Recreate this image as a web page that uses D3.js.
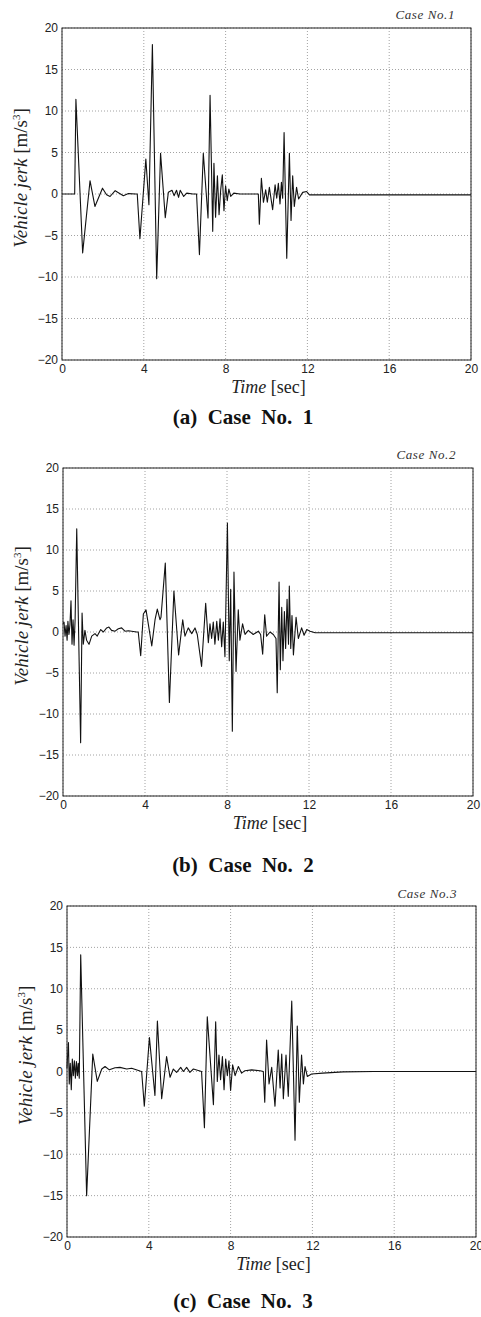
<!DOCTYPE html>
<html>
<head>
<meta charset="utf-8">
<script src="https://cdn.jsdelivr.net/npm/d3@7"></script>
<style>
  body { margin: 0; background: #fff; }
  svg { display: block; }
</style>
</head>
<body>
<div id="chart"></div>
<script>
// axis ticks shared by all three panels
const xTicks = [0, 4, 8, 12, 16, 20];
const yTicks = [-20, -15, -10, -5, 0, 5, 10, 15, 20];

// [time (s), jerk (m/s^3)]
const case1 = [[0,0],[0.62,0],[0.68,11.4],[1.01,-7.1],[1.37,1.6],[1.61,-1.5],[1.98,0.7],[2.18,-0.1],[2.35,-0.3],[2.6,0.4],
  [2.8,0.1],[3.0,-0.2],[3.25,0.05],[3.6,0],[3.68,0],[3.81,-5.4],[4.1,4.2],[4.25,-1.3],[4.42,18],[4.63,-10.2],
  [4.82,4.9],[5.05,-2.85],[5.2,0.2],[5.38,0.45],[5.48,-0.2],[5.6,0.45],[5.7,-0.4],[5.78,0.45],[5.95,-0.3],[6.1,0.1],
  [6.4,0],[6.58,0],[6.72,-7.3],[6.91,4.9],[7.14,-2.9],[7.24,11.9],[7.37,-4.5],[7.43,3.7],[7.51,-2.8],[7.6,2.2],
  [7.68,-2.5],[7.76,0.5],[7.84,2.3],[7.92,-2.0],[8.0,1.0],[8.08,-0.8],[8.16,0.6],[8.25,-0.3],[8.4,0.1],[8.7,0],
  [9.6,0],[9.65,-3.65],[9.75,1.9],[9.85,-1.0],[9.96,0.5],[10.04,-1.0],[10.14,0.8],[10.3,-1.9],[10.42,1.1],[10.5,-0.5],
  [10.58,1.3],[10.66,-1.2],[10.73,1.4],[10.79,-0.5],[10.86,7.4],[10.99,-7.75],[11.12,4.9],[11.2,-3.2],[11.28,2.2],[11.36,-1.5],
  [11.47,0.8],[11.57,-0.6],[11.77,0.2],[11.96,0.3],[12.1,-0.1],[20,-0.1]];

const case2 = [[0,1.0],[0.05,1.2],[0.1,-0.5],[0.15,0.8],[0.2,-1.0],[0.24,1.3],[0.29,-0.3],[0.34,0.9],[0.39,3.8],[0.44,-1.5],
  [0.49,1.5],[0.54,-1.6],[0.59,1.4],[0.67,12.6],[0.75,1.5],[0.86,-13.5],[0.93,2.3],[0.99,-1.5],[1.07,0.2],[1.15,-1.0],
  [1.27,-1.5],[1.4,-0.5],[1.56,-0.2],[1.67,-0.5],[1.84,0.3],[1.97,0],[2.13,0.5],[2.24,0.6],[2.37,0.2],[2.54,0.1],
  [2.7,0.4],[2.86,0.5],[3.02,0.1],[3.19,0.15],[3.59,0],[3.67,0],[3.79,-2.9],[3.92,2.2],[4.05,2.7],[4.16,1.0],
  [4.33,-1.7],[4.49,1.5],[4.6,2.8],[4.73,1.5],[4.78,1.8],[4.99,8.4],[5.19,-8.6],[5.41,5.0],[5.64,-2.8],[5.84,1.5],
  [5.95,-0.5],[6.11,0.5],[6.28,-0.2],[6.44,0.5],[6.55,-0.3],[6.76,-4.2],[6.96,3.5],[7.09,-1.3],[7.17,1.0],[7.25,-0.8],
  [7.33,1.2],[7.41,-1.5],[7.5,1.3],[7.58,-1.0],[7.66,1.6],[7.74,-1.8],[7.82,1.2],[7.9,-3.0],[8.02,13.3],[8.11,-3.5],
  [8.18,5.2],[8.26,-12.1],[8.34,7.3],[8.44,-4.8],[8.55,2.7],[8.63,-1.0],[8.76,1.0],[8.88,-0.3],[9.04,0.2],[9.28,-0.3],
  [9.53,0.1],[9.64,-0.3],[9.74,-2.7],[9.84,2.1],[9.93,-0.5],[10.1,0],[10.26,-0.3],[10.39,-0.8],[10.45,-7.4],[10.54,6.1],
  [10.6,-4.6],[10.67,3.0],[10.73,-3.5],[10.8,2.5],[10.86,-2.0],[10.93,4.0],[11.0,-1.5],[11.04,5.6],[11.11,-2.0],[11.17,2.0],
  [11.24,-2.8],[11.37,1.8],[11.48,-0.8],[11.64,0.5],[11.76,-0.4],[11.89,0.3],[12.05,0.1],[12.3,-0.1],[20,-0.1]];

const case3 = [[0,0.4],[0.02,1.5],[0.07,3.5],[0.11,-1.5],[0.16,1.0],[0.21,-2.2],[0.26,1.5],[0.31,-0.5],[0.36,1.3],[0.41,-0.8],
  [0.46,1.2],[0.51,-0.5],[0.55,1.0],[0.6,-0.8],[0.67,14.1],[0.96,-15],[1.26,2.1],[1.48,-1.2],[1.7,0.3],[1.86,0.6],
  [2.07,0.2],[2.35,0.45],[2.59,0.5],[2.92,0.3],[3.16,0.4],[3.57,0.05],[3.65,0],[3.78,-4.2],[4.03,4.1],[4.3,-2.9],
  [4.42,6.1],[4.63,-3.3],[4.87,1.8],[5.04,-0.7],[5.2,0.3],[5.36,-0.1],[5.56,0.5],[5.69,0],[5.85,0.5],[6.01,-0.1],
  [6.18,0.3],[6.58,0],[6.72,-6.8],[6.86,6.6],[7.16,-4.0],[7.27,6.0],[7.35,-1.2],[7.43,2.0],[7.51,-1.0],[7.6,1.8],
  [7.68,-2.2],[7.76,1.5],[7.84,-0.5],[7.92,1.3],[8.0,-2.3],[8.1,0.8],[8.22,-0.5],[8.38,0.6],[8.54,-0.2],[8.7,0.1],
  [9.03,0.2],[9.44,0.1],[9.6,0],[9.67,-3.7],[9.76,3.8],[9.88,-1.5],[10.01,0.5],[10.17,-4.2],[10.33,2.6],[10.42,-2.0],
  [10.5,2.1],[10.58,-3.3],[10.71,2.0],[10.82,-3.0],[10.99,8.5],[11.15,-8.3],[11.26,5.5],[11.36,-3.7],[11.47,2.0],[11.56,-1.5],
  [11.64,0.6],[11.75,-0.6],[11.96,-0.3],[12.5,-0.2],[13.5,-0.05],[15,0],[20,0]];

const caseTags = ["Case No.1", "Case No.2", "Case No.3"];
const captions = ["(a)  Case  No.  1", "(b)  Case  No.  2", "(c)  Case  No.  3"];

const W = 481, H = 1317;
const serif = "'Liberation Serif', 'Times New Roman', serif";
const sans = "'Liberation Sans', Arial, sans-serif";

const svg = d3.select("#chart").append("svg")
  .attr("width", W)
  .attr("height", H);

// plot frames measured on the scan
const panels = [
  { data: case1, left: 62, right: 471, top: 28, bottom: 360, tagX: 455, tagY: 19, capY: 424 },
  { data: case2, left: 63, right: 473, top: 468, bottom: 796, tagX: 456, tagY: 459, capY: 872 },
  { data: case3, left: 67, right: 476, top: 906, bottom: 1237, tagX: 457, tagY: 898, capY: 1308 }
];

panels.forEach((p, i) => {
  const x = d3.scaleLinear().domain([0, 20]).range([p.left, p.right]);
  const y = d3.scaleLinear().domain([-20, 20]).range([p.bottom, p.top]);
  const g = svg.append("g");

  // dotted grid
  g.selectAll(".gx").data(xTicks).enter().append("line")
    .attr("x1", d => x(d)).attr("x2", d => x(d))
    .attr("y1", p.top).attr("y2", p.bottom)
    .attr("stroke", "#8a8a8a").attr("stroke-width", 0.8)
    .attr("stroke-dasharray", "1,2");
  g.selectAll(".gy").data(yTicks).enter().append("line")
    .attr("x1", p.left).attr("x2", p.right)
    .attr("y1", d => y(d)).attr("y2", d => y(d))
    .attr("stroke", "#8a8a8a").attr("stroke-width", 0.8)
    .attr("stroke-dasharray", "1,2");

  // the jerk trace
  const line = d3.line().x(d => x(d[0])).y(d => y(d[1]));
  g.append("path")
    .datum(p.data)
    .attr("d", line)
    .attr("fill", "none")
    .attr("stroke", "#111")
    .attr("stroke-width", 1.1)
    .attr("stroke-linejoin", "round");

  // frame
  g.append("rect")
    .attr("x", p.left).attr("y", p.top)
    .attr("width", p.right - p.left).attr("height", p.bottom - p.top)
    .attr("fill", "none").attr("stroke", "#222").attr("stroke-width", 1);

  // axes: labels only, no tick marks
  const xAxis = g.append("g")
    .attr("transform", "translate(0," + p.bottom + ")")
    .call(d3.axisBottom(x).tickValues(xTicks).tickSize(0).tickPadding(4));
  const yAxis = g.append("g")
    .attr("transform", "translate(" + p.left + ",0)")
    .call(d3.axisLeft(y).tickValues(yTicks).tickSize(0).tickPadding(4));
  [xAxis, yAxis].forEach(a => {
    a.select(".domain").remove();
    a.selectAll("text")
      .style("font-family", sans)
      .style("font-size", "12px")
      .attr("fill", "#222");
  });

  // y label
  const yl = g.append("text")
    .attr("transform", "translate(" + (p.left - 35) + "," + ((p.top + p.bottom) / 2 - 16) + ") rotate(-90)")
    .attr("text-anchor", "middle")
    .style("font-family", serif)
    .style("font-size", "19px")
    .attr("fill", "#222");
  yl.append("tspan").style("font-style", "italic").text("Vehicle jerk ");
  yl.append("tspan").text("[m/s");
  yl.append("tspan").attr("dy", -7).style("font-size", "11px").text("3");
  yl.append("tspan").attr("dy", 7).text("]");

  // x label
  const xl = g.append("text")
    .attr("x", (p.left + p.right) / 2 + 2)
    .attr("y", p.bottom + 33)
    .attr("text-anchor", "middle")
    .style("font-family", serif)
    .style("font-size", "18px")
    .attr("fill", "#222");
  xl.append("tspan").style("font-style", "italic").text("Time ");
  xl.append("tspan").text("[sec]");

  // case tag above frame
  g.append("text")
    .attr("x", p.tagX).attr("y", p.tagY)
    .attr("text-anchor", "end")
    .style("font-family", serif)
    .style("font-style", "italic")
    .style("font-size", "13px")
    .style("letter-spacing", "0.6px")
    .attr("fill", "#333")
    .text(caseTags[i]);

  // caption
  g.append("text")
    .attr("x", 243).attr("y", p.capY)
    .attr("text-anchor", "middle")
    .style("font-family", serif)
    .style("font-weight", "bold")
    .style("font-size", "21px")
    .style("white-space", "pre")
    .attr("fill", "#111")
    .text(captions[i]);
});
</script>
</body>
</html>
